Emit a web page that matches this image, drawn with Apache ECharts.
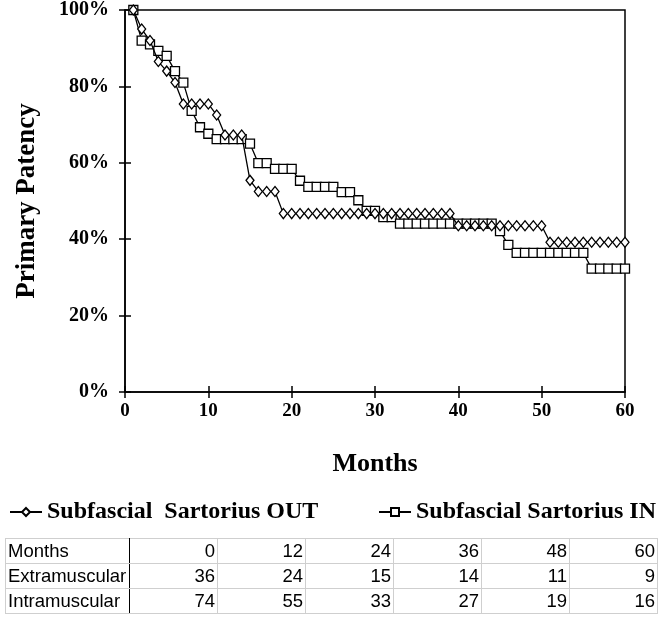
<!DOCTYPE html>
<html>
<head>
<meta charset="utf-8">
<script src="https://cdn.jsdelivr.net/npm/echarts@6/dist/echarts.min.js"></script>
<style>
  html, body { margin: 0; padding: 0; background: #fff; }
  #wrap { position: relative; width: 661px; height: 617px; }
  #chart { position: absolute; left: 0; top: 0; width: 661px; height: 617px; }
  #tbl { position: absolute; left: 5px; top: 538px; border-collapse: collapse;
         font-family: "Liberation Sans", Roboto, sans-serif; font-size: 18.5px; color: #000; }
  #tbl td { border: 1px solid #cfcfcf; height: 24px; padding: 0 2px; text-align: right; line-height: 24px; }
  #tbl td.h { text-align: left; border-right: 1.5px solid #000; width: 119px; }
  #tbl td.n { width: 83px; }
  #tbl { border: 1.5px solid #000; }
</style>
</head>
<body>
<div id="wrap">
  <div id="chart"></div>
  <table id="tbl"></table>
</div>
<script>
// ---- data ----
const seriesNames = ['Subfascial  Sartorius OUT', 'Subfascial Sartorius IN'];
const monthsOut = [1,2,3,4,5,6,7,8,9,10,11,12,13,14,15,16,17,18,19,20,21,22,23,24,25,26,27,28,29,30,31,32,33,34,35,36,37,38,39,40,41,42,43,44,45,46,47,48,49,50,51,52,53,54,55,56,57,58,59,60];
const patencyOut = [100,95,92,86.5,84,81,75.4,75.4,75.4,75.4,72.5,67.3,67.3,67.3,55.4,52.5,52.5,52.5,46.7,46.7,46.7,46.7,46.7,46.7,46.7,46.7,46.7,46.7,46.7,46.7,46.7,46.7,46.7,46.7,46.7,46.7,46.7,46.7,46.7,43.5,43.5,43.5,43.5,43.5,43.5,43.5,43.5,43.5,43.5,43.5,39.2,39.2,39.2,39.2,39.2,39.2,39.2,39.2,39.2,39.2];
const monthsIn = [1,2,3,4,5,6,7,8,9,10,11,12,13,14,15,16,17,18,19,20,21,22,23,24,25,26,27,28,29,30,31,32,33,34,35,36,37,38,39,40,41,42,43,44,45,46,47,48,49,50,51,52,53,54,55,56,57,58,59,60];
const patencyIn = [100,92,91,89.3,88,84,81,73.6,69.3,67.6,66.2,66.2,66.2,66.2,65,59.9,59.9,58.4,58.4,58.4,55.3,53.7,53.7,53.7,53.7,52.3,52.3,50.2,47.4,47.4,45.8,45.8,44.1,44.1,44.1,44.1,44.1,44.1,44.1,44.1,44.1,44.1,44.1,44.1,42.1,38.5,36.4,36.4,36.4,36.4,36.4,36.4,36.4,36.4,36.4,32.3,32.3,32.3,32.3,32.3];
const xTicks = [0,10,20,30,40,50,60];
const yTicks = [0,20,40,60,80,100];
const tableHeader = ['Months', 0, 12, 24, 36, 48, 60];
const tableExtra = ['Extramuscular', 36, 24, 15, 14, 11, 9];
const tableIntra = ['Intramuscular', 74, 55, 33, 27, 19, 16];

// ---- table ----
const tbl = document.getElementById('tbl');
[tableHeader, tableExtra, tableIntra].forEach(row => {
  const tr = document.createElement('tr');
  row.forEach((v, i) => {
    const td = document.createElement('td');
    td.className = i === 0 ? 'h' : 'n';
    td.textContent = v;
    tr.appendChild(td);
  });
  tbl.appendChild(tr);
});

// ---- chart ----
const serif = '"Liberation Serif", "Times New Roman", serif';
const chart = echarts.init(document.getElementById('chart'), null, { renderer: 'canvas' });
const zipPts = (xs, ys) => xs.map((x, i) => [x, ys[i]]);
const axisLine = { show: true, lineStyle: { color: '#000', width: 1.5 } };
const tickStyle = { color: '#000', width: 1.5 };
const legendBase = {
  top: 495, itemWidth: 32, itemHeight: 10,
  textStyle: { fontFamily: serif, fontWeight: 'bold', fontSize: 24, color: '#000' }
};
chart.setOption({
  animation: false,
  backgroundColor: '#fff',
  grid: { left: 125, right: 36, top: 9, bottom: 225, show: true, borderColor: '#000', borderWidth: 1.5 },
  legend: [
    Object.assign({}, legendBase, { left: 4, data: [seriesNames[0]] }),
    Object.assign({}, legendBase, { left: 373, data: [seriesNames[1]] })
  ],
  xAxis: [{
    type: 'value', min: 0, max: 60, interval: 10, position: 'bottom',
    axisLine, axisTick: { show: true, length: 6, lineStyle: tickStyle },
    splitLine: { show: false },
    axisLabel: { fontFamily: serif, fontWeight: 'bold', fontSize: 19, color: '#000', margin: 10,
      customValues: xTicks },
    name: 'Months', nameLocation: 'middle', nameGap: 59,
    nameTextStyle: { fontFamily: serif, fontWeight: 'bold', fontSize: 26, color: '#000' }
  }, {
    type: 'value', min: 0, max: 60, interval: 10, position: 'bottom',
    axisLine: { show: false }, axisTick: { show: true, inside: true, length: 6, lineStyle: tickStyle },
    axisLabel: { show: false }, splitLine: { show: false }
  }],
  yAxis: [{
    type: 'value', min: 0, max: 100, interval: 20, position: 'left',
    axisLine, axisTick: { show: true, length: 6, lineStyle: tickStyle },
    splitLine: { show: false },
    axisLabel: { fontFamily: serif, fontWeight: 'bold', fontSize: 20, color: '#000', margin: 16,
      formatter: v => v + '%' },
    name: 'Primary Patency', nameLocation: 'middle', nameGap: 84, nameRotate: 90,
    nameTextStyle: { fontFamily: serif, fontWeight: 'bold', fontSize: 27, color: '#000' }
  }, {
    type: 'value', min: 0, max: 100, interval: 20, position: 'left',
    axisLine: { show: false }, axisTick: { show: true, inside: true, length: 6, lineStyle: tickStyle },
    axisLabel: { show: false }, splitLine: { show: false }
  }],
  series: [{
    name: seriesNames[1], type: 'line', z: 2,
    data: zipPts(monthsIn, patencyIn),
    symbol: 'rect', symbolSize: 9, showAllSymbol: true,
    lineStyle: { color: '#000', width: 1.3 },
    itemStyle: { color: '#fff', borderColor: '#000', borderWidth: 1.3 }
  }, {
    name: seriesNames[0], type: 'line', z: 3,
    data: zipPts(monthsOut, patencyOut),
    symbol: 'diamond', symbolSize: [8, 10], showAllSymbol: true,
    lineStyle: { color: '#000', width: 1.3 },
    itemStyle: { color: '#fff', borderColor: '#000', borderWidth: 1.3 }
  }]
});
</script>
</body>
</html>
